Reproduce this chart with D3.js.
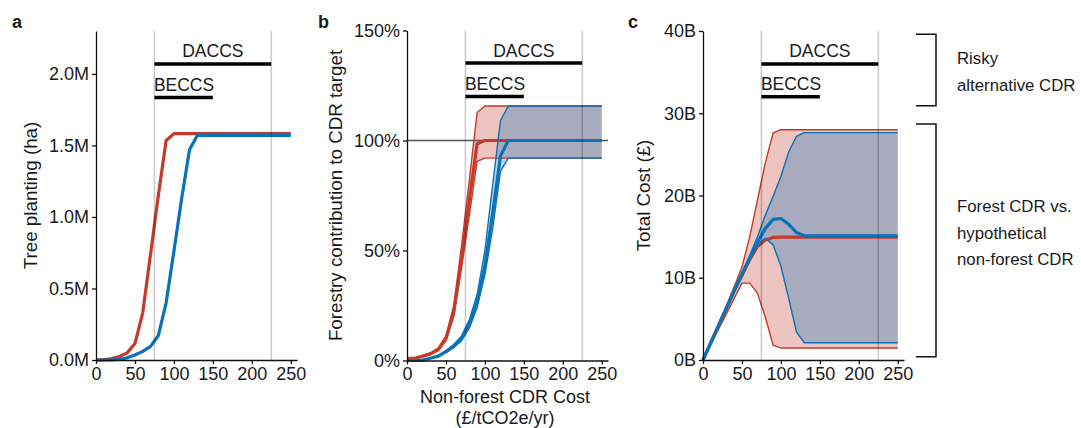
<!DOCTYPE html>
<html lang="en">
<head>
<meta charset="UTF-8">
<title>Forest CDR</title>
<script src="https://d3js.org/d3.v7.min.js"></script>
<style>
	body{margin:0;background:#fff;}
	svg text{font-family:"Liberation Sans",Arial,Helvetica,sans-serif;fill:#1a1a1a;}
	.tick text{font-size:18px;}
	.tick line,.domain{stroke:#111;stroke-width:1.3px;}
</style>
</head>
<body>
<div id="chart"></div>
<script>
// non-forest CDR cost (GBP/tCO2e/yr)
const cost=[0,10,20,30,40,50,60,70,80,90,100,110,120,130,140,150,160,170,180,190,200,210,220,230,240,250];

// a: tree planting (million ha)
const plantRed=[0,0.002,0.01,0.025,0.05,0.115,0.33,0.74,1.15,1.535,1.582,1.582,1.582,1.582,1.582,1.582,1.582,1.582,1.582,1.582,1.582,1.582,1.582,1.582,1.582,1.582];
const plantBlue=[0,0,0,0.005,0.015,0.035,0.06,0.095,0.17,0.40,0.76,1.13,1.47,1.57,1.57,1.57,1.57,1.57,1.57,1.57,1.57,1.57,1.57,1.57,1.57,1.57];

// b: forestry contribution to CDR target (fraction)
const shareRed=[0.01,0.01,0.02,0.03,0.05,0.10,0.22,0.46,0.73,0.985,1,1,1,1,1,1,1,1,1,1,1,1,1,1,1,1];
const shareRedHi=[0.011,0.011,0.022,0.034,0.056,0.112,0.25,0.52,0.82,1.127,1.157,1.157,1.157,1.157,1.157,1.157,1.157,1.157,1.157,1.157,1.157,1.157,1.157,1.157,1.157,1.157];
const shareRedLo=[0.009,0.009,0.018,0.027,0.045,0.09,0.20,0.42,0.66,0.905,0.92,0.92,0.92,0.92,0.92,0.92,0.92,0.92,0.92,0.92,0.92,0.92,0.92,0.92,0.92,0.92];
const shareBlue=[0,0,0.002,0.01,0.02,0.04,0.065,0.10,0.165,0.265,0.43,0.67,0.93,1,1,1,1,1,1,1,1,1,1,1,1,1];
const shareBlueHi=[0,0,0.002,0.011,0.022,0.045,0.073,0.112,0.185,0.30,0.50,0.80,1.09,1.157,1.157,1.157,1.157,1.157,1.157,1.157,1.157,1.157,1.157,1.157,1.157,1.157];
const shareBlueLo=[0,0,0.002,0.009,0.018,0.036,0.058,0.09,0.148,0.24,0.39,0.60,0.86,0.92,0.92,0.92,0.92,0.92,0.92,0.92,0.92,0.92,0.92,0.92,0.92,0.92];

// c: total cost (billion GBP)
const costRed=[0,2.1,4.2,6.3,8.4,10.3,12.2,13.8,14.6,14.9,14.95,14.95,14.95,14.95,14.95,14.95,14.95,14.95,14.95,14.95,14.95,14.95,14.95,14.95,14.95,14.95];
const costRedHi=[0,2.2,4.4,6.6,8.9,11.3,15.0,19.5,24.0,27.6,28,28,28,28,28,28,28,28,28,28,28,28,28,28,28,28];
const costRedLo=[0,1.9,3.75,5.6,7.5,9.35,9.35,8.1,5.2,1.8,1.45,1.45,1.45,1.45,1.45,1.45,1.45,1.45,1.45,1.45,1.45,1.45,1.45,1.45,1.45,1.45];
const costBlue=[0,2.1,4.2,6.3,8.4,10.4,12.4,14.3,16.0,17.1,17.2,16.5,15.5,15.1,15.1,15.1,15.1,15.1,15.1,15.1,15.1,15.1,15.1,15.1,15.1,15.1];
const costBlueHi=[0,2.15,4.3,6.4,8.6,10.6,12.7,15.0,17.6,19.9,22.3,25.3,27.2,27.65,27.65,27.65,27.65,27.65,27.65,27.65,27.65,27.65,27.65,27.65,27.65,27.65];
const costBlueLo=[0,2.05,4.1,6.2,8.2,10.3,12.2,14.0,14.8,14.0,11.4,7.5,3.4,2.1,2.1,2.1,2.1,2.1,2.1,2.1,2.1,2.1,2.1,2.1,2.1,2.1];

// ticks
const xTicks=[0,50,100,150,200,250];
const yTicksA=[0,0.5,1,1.5,2], yLabelsA=["0.0M","0.5M","1.0M","1.5M","2.0M"];
const yTicksB=[0,0.5,1,1.5], yLabelsB=["0%","50%","100%","150%"];
const yTicksC=[0,10,20,30,40], yLabelsC=["0B","10B","20B","30B","40B"];

// technology ranges (cost) and bar heights per panel
const techNames=["DACCS","BECCS"];
const techFrom=[75,75], techTo=[225,150], techLabelAt=[150,113];
const techYA=[2.07,1.835], techYB=[1.352,1.2], techYC=[36,32];
const refCosts=[75,225];

// bracket annotations for panel c
const bracketTop=[39.6,28.7], bracketBottom=[30.9,0.4];
const bracketText=[["Risky","alternative CDR"],["Forest CDR vs.","hypothetical","non-forest CDR"]];
const bracketTextY=[64,212];

const RED="#c43b2a", BLUE="#0a72b9";

const svg=d3.select('#chart').append('svg').attr('width',1081).attr('height',428);

function panel(opt){
	const x=d3.scaleLinear().domain([0,258]).range([opt.left,opt.left+201]);
	const y=d3.scaleLinear().domain(opt.yDomain).range([opt.bottom,opt.top]);
	const g=svg.append('g');

	const area=(hi,lo)=>d3.area().x((d,i)=>x(cost[i])).y0((d,i)=>y(lo[i])).y1((d,i)=>y(hi[i]))(cost);
	const line=(v)=>d3.line().x((d,i)=>x(cost[i])).y((d,i)=>y(v[i]))(cost);

	// bands
	(opt.bands||[]).forEach(b=>{
		g.append('path').attr('d',area(b.hi,b.lo)).attr('fill',b.color).attr('fill-opacity',0.3);
	});
	// 100% reference
	if(opt.hline!==undefined){
		g.append('line').attr('x1',x(0)).attr('x2',x(258)).attr('y1',y(opt.hline)).attr('y2',y(opt.hline))
			.attr('stroke','#555').attr('stroke-width',1.3);
	}
	// series
	(opt.series||[]).forEach(s=>{
		g.append('path').attr('d',line(s.v)).attr('fill','none').attr('stroke',s.color)
			.attr('stroke-width',s.w).attr('stroke-linejoin','round');
	});
	// vertical cost markers
	refCosts.forEach(c=>{
		g.append('line').attr('x1',x(c)).attr('x2',x(c)).attr('y1',opt.top).attr('y2',opt.bottom)
			.attr('stroke','#000').attr('stroke-opacity',0.2).attr('stroke-width',1.6);
	});
	// technology bars
	techNames.forEach((n,i)=>{
		g.append('line').attr('x1',x(techFrom[i])).attr('x2',x(techTo[i]))
			.attr('y1',y(opt.techY[i])).attr('y2',y(opt.techY[i]))
			.attr('stroke','#000').attr('stroke-width',3.5);
		g.append('text').attr('x',x(techLabelAt[i])).attr('y',y(opt.techY[i])-6.5)
			.attr('text-anchor','middle').style('font-size','17.5px').text(n);
	});
	// axes
	g.append('g').attr('transform',`translate(0,${opt.bottom})`)
		.call(d3.axisBottom(x).tickValues(xTicks).tickSize(4).tickSizeOuter(0).tickPadding(3));
	g.append('g').attr('transform',`translate(${opt.left},0)`)
		.call(d3.axisLeft(y).tickValues(opt.yTicks).tickFormat((d,i)=>opt.yLabels[i]).tickSize(4).tickSizeOuter(0).tickPadding(3));
	g.selectAll('.tick text').attr('fill','#1a1a1a');
	// y title
	g.append('text').attr('transform',`translate(${opt.titleX},${(opt.top+opt.bottom)/2}) rotate(-90)`)
		.attr('text-anchor','middle').style('font-size','18.8px').text(opt.yTitle);
	// panel letter
	g.append('text').attr('x',opt.letterX).attr('y',28).style('font-size','18px').style('font-weight','bold').text(opt.letter);
	return {x,y};
}

panel({left:96,top:31,bottom:360,yDomain:[0,2.3],yTicks:yTicksA,yLabels:yLabelsA,
	yTitle:"Tree planting (ha)",titleX:37,letter:"a",letterX:12,techY:techYA,
	series:[{v:plantRed,color:RED,w:3.2},{v:plantBlue,color:BLUE,w:3.2}]});

panel({left:407,top:30.5,bottom:360.5,yDomain:[0,1.5],yTicks:yTicksB,yLabels:yLabelsB,
	yTitle:"Forestry contribution to CDR target",titleX:342,letter:"b",letterX:318,techY:techYB,hline:1,
	bands:[{hi:shareRedHi,lo:shareRedLo,color:RED},{hi:shareBlueHi,lo:shareBlueLo,color:BLUE}],
	series:[{v:shareRedHi,color:RED,w:1.4},{v:shareRedLo,color:RED,w:1.4},{v:shareRed,color:RED,w:3.2},
		{v:shareBlueHi,color:BLUE,w:1.4},{v:shareBlueLo,color:BLUE,w:1.4},{v:shareBlue,color:BLUE,w:3.2}]});

const pc=panel({left:703,top:31,bottom:360,yDomain:[0,40],yTicks:yTicksC,yLabels:yLabelsC,
	yTitle:"Total Cost (£)",titleX:650,letter:"c",letterX:628,techY:techYC,
	bands:[{hi:costRedHi,lo:costRedLo,color:RED},{hi:costBlueHi,lo:costBlueLo,color:BLUE}],
	series:[{v:costRedHi,color:RED,w:1.4},{v:costRedLo,color:RED,w:1.4},{v:costRed,color:RED,w:3.2},
		{v:costBlueHi,color:BLUE,w:1.4},{v:costBlueLo,color:BLUE,w:1.4},{v:costBlue,color:BLUE,w:3.2}]});

// x title (panel b only)
svg.append('text').attr('x',505).attr('y',403).attr('text-anchor','middle').style('font-size','18px').text("Non-forest CDR Cost");
svg.append('text').attr('x',505).attr('y',424).attr('text-anchor','middle').style('font-size','18px').text("(£/tCO2e/yr)");

// brackets
bracketTop.forEach((t,i)=>{
	const y1=pc.y(t), y2=pc.y(bracketBottom[i]);
	svg.append('path').attr('d',`M916,${y1}H936V${y2}H916`).attr('fill','none').attr('stroke','#111').attr('stroke-width',1.5);
	bracketText[i].forEach((s,j)=>{
		svg.append('text').attr('x',957).attr('y',bracketTextY[i]+j*26.5)
			.style('font-size','16.8px').attr('fill','#222').text(s);
	});
});
</script>
</body>
</html>
